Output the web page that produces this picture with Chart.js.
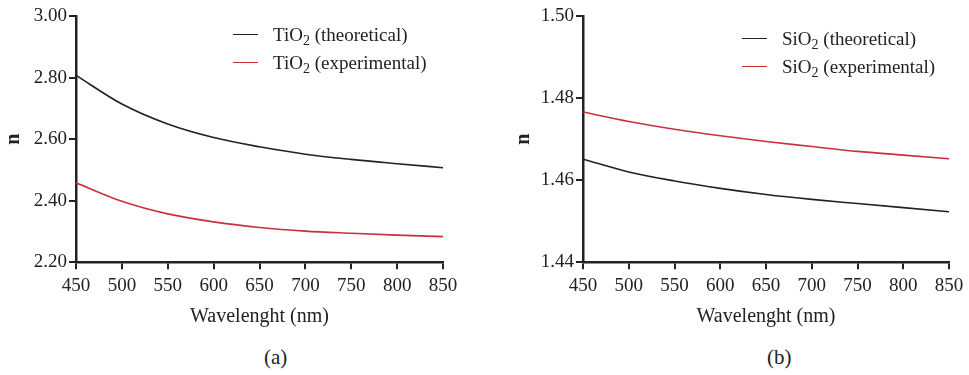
<!DOCTYPE html>
<html>
<head>
<meta charset="utf-8">
<script src="https://cdn.jsdelivr.net/npm/chart.js@4/dist/chart.umd.min.js"></script>
<style>
  body { margin: 0; background: #fff; font-family: 'Liberation Serif', 'DejaVu Serif', serif; }
  #wrap { position: relative; width: 969px; height: 375px; }
  .box { position: absolute; top: 0; height: 329px; }
  .legend { position: absolute; font-size: 19px; color: #222; line-height: 28px; }
  .legend .sw { display: inline-block; width: 25px; height: 0; border-top: 1.6px solid; vertical-align: middle; margin-right: 15px; position: relative; top: -2px; }
  .legend sub { font-size: 14px; vertical-align: -4px; line-height: 0; }
  .cap { position: absolute; top: 345px; font-size: 21px; color: #222; }
</style>
</head>
<body>
<div id="wrap">
  <div class="box" style="left:0;width:480px"><canvas id="chartA"></canvas></div>
  <div class="box" style="left:480px;width:489px"><canvas id="chartB"></canvas></div>
  <div class="legend" style="left:233px;top:21px">
    <div><span class="sw" style="border-color:#222"></span>TiO<sub>2</sub> (theoretical)</div>
    <div><span class="sw" style="border-color:#c8323c"></span>TiO<sub>2</sub> (experimental)</div>
  </div>
  <div class="legend" style="left:742px;top:25px">
    <div><span class="sw" style="border-color:#222"></span>SiO<sub>2</sub> (theoretical)</div>
    <div><span class="sw" style="border-color:#c8323c"></span>SiO<sub>2</sub> (experimental)</div>
  </div>
  <div class="cap" style="left:264px">(a)</div>
  <div class="cap" style="left:767px">(b)</div>
</div>
<script>
// wavelength (nm)
const wavelengths = [450, 500, 550, 600, 650, 700, 750, 800, 850];
// refractive index
const tio2Theo = [2.807, 2.714, 2.649, 2.605, 2.575, 2.551, 2.534, 2.520, 2.507];
const tio2Exp  = [2.458, 2.398, 2.357, 2.331, 2.313, 2.301, 2.294, 2.288, 2.283];
const sio2Theo = [1.4651, 1.4620, 1.4598, 1.4580, 1.4565, 1.4553, 1.4543, 1.4533, 1.4523];
const sio2Exp  = [1.4766, 1.4743, 1.4724, 1.4708, 1.4694, 1.4682, 1.4670, 1.4661, 1.4652];

const BLACK = "#222";
const RED = "#c8323c";
const FONT = "'Liberation Serif', 'DejaVu Serif', serif";

function pts(ys) {
  return wavelengths.map((x, i) => ({ x: x, y: ys[i] }));
}

function makeChart(id, theo, exp, yMin, yMax, yStep, axisWidth, padLeft, padRight) {
  const ctx = document.getElementById(id);
  return new Chart(ctx, {
    type: "line",
    data: {
      datasets: [
        { label: "theoretical", data: pts(theo), borderColor: BLACK, borderWidth: 1.6, pointRadius: 0, cubicInterpolationMode: "monotone" },
        { label: "experimental", data: pts(exp), borderColor: RED, borderWidth: 1.6, pointRadius: 0, cubicInterpolationMode: "monotone" },
      ],
    },
    options: {
      responsive: true,
      maintainAspectRatio: false,
      animation: false,
      layout: { padding: { left: padLeft, right: padRight, top: 16, bottom: 0 } },
      plugins: { legend: { display: false }, tooltip: { enabled: false } },
      scales: {
        x: {
          type: "linear",
          min: 450,
          max: 850,
          ticks: { stepSize: 50, color: BLACK, font: { family: FONT, size: 19 }, padding: 5, maxRotation: 0 },
          grid: { display: true, drawOnChartArea: false, drawTicks: true, tickLength: 7, color: BLACK, lineWidth: 2 },
          border: { color: BLACK, width: 2.5 },
          title: { display: true, text: "Wavelenght (nm)", color: BLACK, font: { family: FONT, size: 20 }, padding: { top: 3, bottom: 0 } },
        },
        y: {
          min: yMin,
          max: yMax,
          afterFit: (scale) => { scale.width = axisWidth; },
          ticks: { stepSize: yStep, color: BLACK, font: { family: FONT, size: 19 }, padding: 2, callback: (v) => v.toFixed(2) },
          grid: { display: true, drawOnChartArea: false, drawTicks: true, tickLength: 7, color: BLACK, lineWidth: 2 },
          border: { color: BLACK, width: 2.5 },
          title: { display: true, text: "n", color: BLACK, font: { family: FONT, size: 20, weight: "bold" }, padding: 2 },
        },
      },
    },
  });
}

makeChart("chartA", tio2Theo, tio2Exp, 2.2, 3.0, 0.2, 76, 0, 37);
makeChart("chartB", sio2Theo, sio2Exp, 1.44, 1.50, 0.02, 73, 30, 20);
</script>
</body>
</html>
